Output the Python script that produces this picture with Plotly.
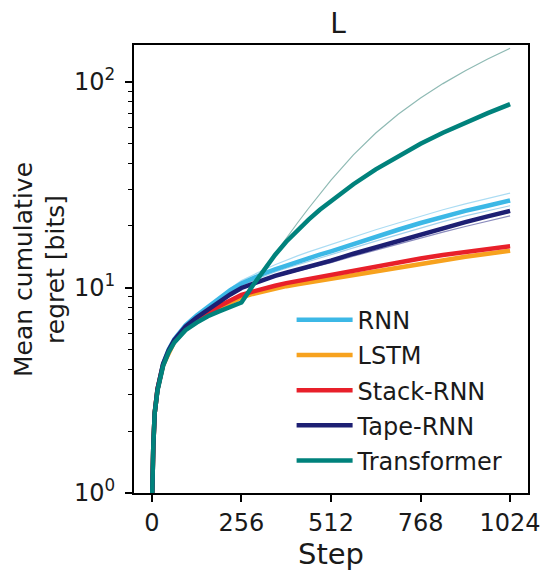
import plotly.graph_objects as go

steps = [1, 2, 4, 8, 16, 32, 48, 64, 96, 128, 160, 192, 224, 256, 288, 320,
         352, 384, 416, 448, 480, 512, 576, 640, 704, 768, 832, 896, 960, 1024]

# thick lines (one per model)
rnn = [1.0, 1.3, 1.7, 2.45, 3.2, 4.25, 5.0, 5.6, 6.55, 7.3, 8.0, 8.9, 9.7, 10.45,
       11.1, 11.7, 12.25, 12.8, 13.35, 13.9, 14.45, 15.0, 16.3, 17.7, 19.1, 20.6,
       22.1, 23.6, 25.0, 26.5]
lstm = [1.0, 1.3, 1.7, 2.45, 3.2, 4.2, 4.85, 5.45, 6.25, 6.85, 7.4, 7.95, 8.45, 8.95,
        9.3, 9.6, 9.9, 10.15, 10.38, 10.6, 10.83, 11.05, 11.55, 12.05, 12.55, 13.05,
        13.6, 14.1, 14.6, 15.1]
stack_rnn = [1.0, 1.3, 1.7, 2.45, 3.2, 4.2, 4.9, 5.5, 6.3, 6.95, 7.55, 8.1, 8.65, 9.2,
             9.55, 9.9, 10.2, 10.5, 10.75, 11.0, 11.25, 11.5, 12.1, 12.7, 13.3, 13.85,
             14.4, 14.9, 15.4, 15.9]
tape_rnn = [1.0, 1.3, 1.7, 2.45, 3.2, 4.25, 4.95, 5.55, 6.45, 7.15, 7.8, 8.5, 9.25, 9.95,
            10.45, 10.95, 11.4, 11.8, 12.2, 12.6, 13.05, 13.5, 14.6, 15.7, 16.9, 18.1,
            19.4, 20.8, 22.2, 23.6]
transformer = [1.0, 1.3, 1.7, 2.45, 3.15, 4.15, 4.85, 5.4, 6.2, 6.75, 7.25, 7.65, 8.0, 8.45,
               10.2, 12.2, 14.4, 16.7, 19.0, 21.4, 23.9, 26.4, 31.8, 37.6, 43.6, 50.1,
               56.6, 63.4, 70.5, 78.0]

# thin lines (other runs)
rnn_hi = [1.0, 1.3, 1.7, 2.45, 3.2, 4.25, 5.0, 5.6, 6.55, 7.3, 8.1, 8.95, 9.9, 10.8,
          11.5, 12.2, 12.9, 13.6, 14.25, 14.9, 15.55, 16.2, 17.6, 19.1, 20.6, 22.2,
          23.9, 25.5, 27.1, 28.8]
rnn_lo = [1.0, 1.3, 1.7, 2.45, 3.2, 4.25, 5.0, 5.6, 6.55, 7.3, 7.95, 8.65, 9.45, 10.2,
          10.8, 11.35, 11.9, 12.4, 12.9, 13.4, 13.9, 14.4, 15.6, 16.8, 18.1, 19.5,
          20.9, 22.3, 23.6, 25.0]
tape_lo = [1.0, 1.3, 1.7, 2.45, 3.2, 4.25, 4.95, 5.55, 6.45, 7.1, 7.75, 8.4, 9.15, 9.85,
           10.3, 10.8, 11.25, 11.65, 12.02, 12.4, 12.8, 13.2, 14.2, 15.2, 16.3, 17.4,
           18.6, 19.8, 21.0, 22.3]
transformer_hi = [1.0, 1.3, 1.7, 2.45, 3.15, 4.15, 4.85, 5.4, 6.2, 6.75, 7.25, 7.65, 8.0, 8.45,
                  10.2, 12.2, 14.6, 17.4, 20.6, 24.3, 28.5, 33.3, 44.2, 56.5, 69.7, 83.6,
                  98.2, 113.5, 129.4, 146.0]

names = ["RNN", "LSTM", "Stack-RNN", "Tape-RNN", "Transformer"]
colors = ["#3cb8e6", "#f7a21e", "#e8202a", "#1d1f73", "#00827c"]
thick = [rnn, lstm, stack_rnn, tape_rnn, transformer]

thin = [
    (rnn_hi, "#abdcf3"),
    (rnn_lo, "#a3d2ec"),
    (tape_lo, "#8a8bbd"),
    (transformer_hi, "#8fbab4"),
]

FONT = "DejaVu Sans"

fig = go.Figure()

for vals, col in thin:
    fig.add_trace(go.Scatter(x=steps, y=vals, mode="lines",
                             line=dict(color=col, width=1.2),
                             showlegend=False, hoverinfo="skip"))

for name, vals, col in zip(names, thick, colors):
    fig.add_trace(go.Scatter(x=steps, y=vals, mode="lines", name=name,
                             legendgroup=name,
                             line=dict(color=col, width=4.5)))

# page body has an 8px margin, so the figure is 8px smaller than the window
fig.update_layout(
    width=542, height=571,
    margin=dict(l=126, r=22, t=37, b=86),
    plot_bgcolor="white", paper_bgcolor="white",
    font=dict(family=FONT, size=24, color="#1a1a1a"),
    title=dict(text="L", x=0.6089, xanchor="center", y=0.974, yanchor="middle",
               font=dict(size=28)),
    legend=dict(x=0.40, y=0.436, xanchor="left", yanchor="top",
                bgcolor="rgba(0,0,0,0)", itemwidth=56, tracegroupgap=1,
                font=dict(size=24)),
    annotations=[dict(text="Mean cumulative<br>regret [bits]", textangle=-90,
                      xref="paper", yref="paper", x=-0.2386, y=0.5,
                      xanchor="center", yanchor="middle", showarrow=False,
                      font=dict(size=25))],
)

fig.update_xaxes(
    range=[-51.2, 1075.2], tickvals=[0, 256, 512, 768, 1024],
    ticks="outside", ticklen=7, tickwidth=1.5, tickcolor="black",
    showline=True, linecolor="black", linewidth=2, mirror=True,
    showgrid=False, zeroline=False, automargin=False,
    title=dict(text="Step", standoff=6),
)

fig.update_yaxes(
    type="log", range=[0, 2.18],
    tickvals=[1, 10, 100],
    ticktext=["10<sup>0</sup>", "10<sup>1</sup>", "10<sup>2</sup>"],
    ticks="outside", ticklen=7, tickwidth=1.5, tickcolor="black",
    ticklabelstandoff=5,
    minor=dict(ticks="outside", ticklen=4, tickwidth=1.2, tickcolor="black",
               dtick="D1", showgrid=False),
    showline=True, linecolor="black", linewidth=2, mirror=True,
    showgrid=False, zeroline=False, automargin=False,
)

fig.write_html("out.html")
